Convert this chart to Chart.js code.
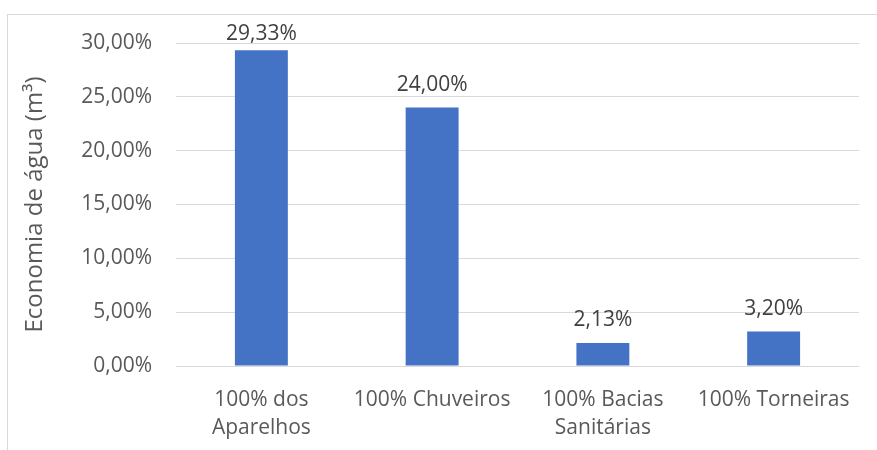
<!DOCTYPE html>
<html>
<head>
<meta charset="utf-8">
<script src="https://cdn.jsdelivr.net/npm/chart.js@4"></script>
<style>
  html, body { margin: 0; padding: 0; background: #ffffff; overflow: hidden; }
  #wrap { position: relative; width: 877px; height: 450px; }
  #frame { position: absolute; left: 7px; top: 14px; width: 900px; height: 500px; border: 1px solid #d9d9d9; box-sizing: border-box; }
  #c { position: absolute; left: 0; top: 0; }
</style>
</head>
<body>
<div id="wrap">
  <div id="frame"></div>
  <canvas id="c" width="877" height="450"></canvas>
</div>
<script>
const categories = [["100% dos", "Aparelhos"], "100% Chuveiros", ["100% Bacias", "Sanitárias"], "100% Torneiras"];
const values = [29.33, 24.00, 2.13, 3.20];
const yTicks = [0, 5, 10, 15, 20, 25, 30];
const yTitle = "Economia de água (m³)";

const fmt = v => v.toFixed(2).replace('.', ',') + '%';
const FONT = "'Open Sans', sans-serif";

const dataLabels = {
  id: 'dataLabels',
  afterDatasetsDraw(chart) {
    const ctx = chart.ctx;
    const meta = chart.getDatasetMeta(0);
    ctx.save();
    ctx.font = "21px " + FONT;
    ctx.fillStyle = '#404040';
    ctx.textAlign = 'center';
    ctx.textBaseline = 'alphabetic';
    meta.data.forEach((bar, i) => {
      const y = Math.max(bar.y - 17, chart.chartArea.top - 3);
      ctx.fillText(fmt(values[i]), bar.x, y);
    });
    ctx.restore();
  }
};

new Chart(document.getElementById('c'), {
  type: 'bar',
  data: {
    labels: categories,
    datasets: [{
      data: values,
      backgroundColor: '#4472C4',
      borderWidth: 0,
      barPercentage: 0.62,
      categoryPercentage: 0.5
    }]
  },
  options: {
    responsive: false,
    animation: false,
    layout: { padding: { top: 43, right: 18, bottom: 0, left: 0 } },
    plugins: { legend: { display: false }, tooltip: { enabled: false } },
    scales: {
      x: {
        grid: { display: false },
        border: { display: false },
        ticks: { color: '#595959', font: { family: FONT, size: 21, lineHeight: 1.34 }, padding: 12, maxRotation: 0, autoSkip: false },
        afterFit(s) { s.height = 84; }
      },
      y: {
        min: 0, max: 30,
        afterBuildTicks(s) { s.ticks = yTicks.map(v => ({ value: v })); },
        grid: { color: '#d9d9d9', lineWidth: 1, drawTicks: false },
        border: { display: false },
        ticks: { color: '#595959', font: { family: FONT, size: 21 }, padding: 24, callback: v => fmt(v) },
        title: { display: true, text: yTitle, color: '#595959', font: { family: FONT, size: 24 }, padding: { top: 21, bottom: 0 } },
        afterFit(s) { s.width = 176; }
      }
    }
  },
  plugins: [dataLabels]
});
</script>
</body>
</html>
